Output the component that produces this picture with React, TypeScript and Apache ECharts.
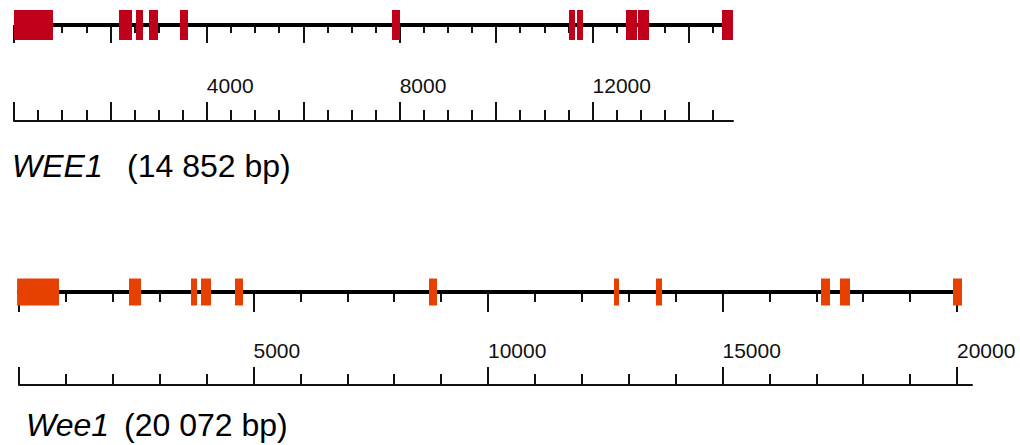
import React, { useEffect, useRef } from "react";
import * as echarts from "echarts";

// ---------- data ----------
const humanName = "WEE1";
const humanSize = "(14 852 bp)";
const humanAxisMax = 14914;
const humanGeneEnd = 14914;
const humanExons: [number, number][] = [
  [0, 809], [2178, 2448], [2531, 2676], [2800, 2987], [3443, 3609],
  [7841, 8007], [11512, 11637], [11678, 11802], [12694, 12923], [12943, 13172],
  [14686, 14914],
];
const humanMajorTicks = [0, 2000, 4000, 6000, 8000, 10000, 12000, 14000];
const humanMinorTicks = [500, 1000, 1500, 2500, 3000, 3500, 4500, 5000, 5500, 6500, 7000, 7500,
  8500, 9000, 9500, 10500, 11000, 11500, 12500, 13000, 13500, 14500];
const humanTickLabels = [4000, 8000, 12000];

const mouseName = "Wee1";
const mouseSize = "(20 072 bp)";
const mouseAxisMax = 20320;
const mouseGeneEnd = 20107;
const mouseExons: [number, number][] = [
  [-40, 853], [2345, 2601], [3667, 3795], [3881, 4094], [4606, 4776],
  [8742, 8913], [12687, 12793], [13582, 13710], [17100, 17292], [17505, 17719],
  [19915, 20107],
];
const mouseMajorTicks = [0, 5000, 10000, 15000, 20000];
const mouseMinorTicks = [1000, 2000, 3000, 4000, 6000, 7000, 8000, 9000, 11000, 12000, 13000, 14000,
  16000, 17000, 18000, 19000];
const mouseTickLabels = [5000, 10000, 15000, 20000];

const FONT = "'Liberation Sans', Arial, Helvetica, sans-serif";

type GeneCfg = {
  axisMax: number; geneEnd: number; exons: [number, number][];
  major: number[]; minor: number[]; labels: number[];
  left: number; width: number; trackY: number; rulerY: number;
  exonH: number; color: string;
  trackMajorLen: number; trackMinorLen: number; rulerMajorLen: number; rulerMinorLen: number;
  labelMargin: number;
};

function buildGene(cfg: GeneCfg, gi: number, xi: number, opt: any) {
  const gTrack = gi, gRuler = gi + 1;
  opt.grid.push({ left: cfg.left, width: cfg.width, top: cfg.trackY - 20, height: 20 });
  opt.grid.push({ left: cfg.left, width: cfg.width, top: cfg.rulerY - 21, height: 21 });
  opt.yAxis.push({ gridIndex: gTrack, type: "value", min: 0, max: 1, show: false });
  opt.yAxis.push({ gridIndex: gRuler, type: "value", min: 0, max: 1, show: false });
  const base = {
    type: "value", min: 0, max: cfg.axisMax, position: "bottom",
    splitLine: { show: false }, minorTick: { show: false }, minorSplitLine: { show: false },
  };
  const tickStyle = { color: "#111", width: 2 };
  // track major ticks
  opt.xAxis.push({
    ...base, gridIndex: gTrack,
    axisLine: { show: false },
    axisTick: { show: true, inside: false, length: cfg.trackMajorLen, customValues: cfg.major, lineStyle: tickStyle },
    axisLabel: { show: false },
  });
  // track minor ticks
  opt.xAxis.push({
    ...base, gridIndex: gTrack,
    axisLine: { show: false },
    axisTick: { show: true, inside: false, length: cfg.trackMinorLen, customValues: cfg.minor, lineStyle: tickStyle },
    axisLabel: { show: false },
  });
  // ruler major ticks + labels + line
  opt.xAxis.push({
    ...base, gridIndex: gRuler,
    axisLine: { show: true, lineStyle: { color: "#111", width: 2 } },
    axisTick: { show: true, inside: true, length: cfg.rulerMajorLen, customValues: cfg.major, lineStyle: tickStyle },
    axisLabel: {
      show: true, inside: true, customValues: cfg.labels, align: "left", verticalAlign: "bottom",
      margin: cfg.labelMargin, color: "#111", fontSize: 21, fontFamily: FONT,
      formatter: (v: number) => String(v),
    },
  });
  // ruler minor ticks
  opt.xAxis.push({
    ...base, gridIndex: gRuler,
    axisLine: { show: false },
    axisTick: { show: true, inside: true, length: cfg.rulerMinorLen, customValues: cfg.minor, lineStyle: tickStyle },
    axisLabel: { show: false },
  });
  // gene line
  opt.series.push({
    type: "line", xAxisIndex: xi, yAxisIndex: gTrack,
    data: [[cfg.exons[0][0], 0], [cfg.geneEnd, 0]],
    symbol: "none", lineStyle: { color: "#000", width: 4 }, z: 3, silent: true,
  });
  // exons
  opt.series.push({
    type: "custom", xAxisIndex: xi, yAxisIndex: gTrack, z: 5, clip: false,
    data: cfg.exons.map((e) => [e[0], e[1]]),
    renderItem: (_p: any, api: any) => {
      const s = api.coord([api.value(0), 0]);
      const e = api.coord([api.value(1), 0]);
      return {
        type: "rect",
        shape: { x: s[0], y: s[1] - cfg.exonH / 2, width: Math.max(1, e[0] - s[0]), height: cfg.exonH },
        style: { fill: cfg.color },
      };
    },
  });
}

export default function App() {
  const ref = useRef<HTMLDivElement>(null);
  useEffect(() => {
    if (!ref.current) return;
    const chart = echarts.init(ref.current, undefined, { renderer: "svg" });
    const opt: any = {
      animation: false,
      backgroundColor: "#ffffff",
      grid: [], xAxis: [], yAxis: [], series: [],
      graphic: [
        { type: "text", left: 12, top: 150, style: { text: humanName, fontSize: 32, fontStyle: "italic", fontFamily: FONT, fill: "#000" } },
        { type: "text", left: 127, top: 150, style: { text: humanSize, fontSize: 32, fontFamily: FONT, fill: "#000" } },
        { type: "text", left: 26, top: 409, style: { text: mouseName, fontSize: 32, fontStyle: "italic", fontFamily: FONT, fill: "#000" } },
        { type: "text", left: 124, top: 409, style: { text: mouseSize, fontSize: 32, fontFamily: FONT, fill: "#000" } },
      ],
    };
    buildGene({
      axisMax: humanAxisMax, geneEnd: humanGeneEnd, exons: humanExons,
      major: humanMajorTicks, minor: humanMinorTicks, labels: humanTickLabels,
      left: 14, width: 719, trackY: 25, rulerY: 121, exonH: 30, color: "#C0001A",
      trackMajorLen: 18, trackMinorLen: 8, rulerMajorLen: 19, rulerMinorLen: 11, labelMargin: 25,
    }, 0, 0, opt);
    buildGene({
      axisMax: mouseAxisMax, geneEnd: mouseGeneEnd, exons: mouseExons,
      major: mouseMajorTicks, minor: mouseMinorTicks, labels: mouseTickLabels,
      left: 19, width: 953, trackY: 292, rulerY: 385, exonH: 27, color: "#E64100",
      trackMajorLen: 20, trackMinorLen: 10, rulerMajorLen: 18, rulerMinorLen: 11, labelMargin: 24,
    }, 2, 4, opt);
    chart.setOption(opt);
    return () => chart.dispose();
  }, []);
  return (
    <div
      ref={ref}
      style={{ position: "fixed", left: 0, top: 0, width: 1020, height: 445, background: "#fff" }}
    />
  );
}
